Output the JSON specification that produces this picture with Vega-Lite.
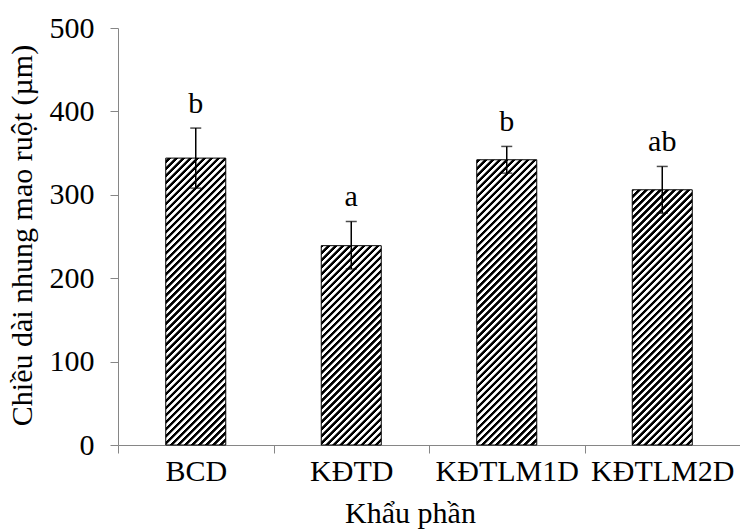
{
  "$schema": "https://vega.github.io/schema/vega-lite/v6.json",
  "width": 622,
  "height": 417,
  "autosize": "none",
  "padding": {"left": 118, "top": 28, "right": 0, "bottom": 86},
  "background": "white",
  "config": {
    "view": {"stroke": null},
    "font": "Liberation Serif",
    "axisY": {"grid": false, "labelFontSize": 30, "labelColor": "#000", "labelPadding": 16, "labelBaseline": "middle",
      "domainColor": "#868686", "tickColor": "#868686", "tickSize": 8,
      "titleFontSize": 30, "titleFontWeight": "normal", "titleColor": "#000", "titleX": -96, "titleY": 207, "titleAngle": 270, "titleBaseline": "middle", "titleAlign": "center"},
    "axisX": {"labelAngle": 0, "labelFontSize": 30, "labelColor": "#000", "labelBaseline": "alphabetic", "labelPadding": 27,
      "domainColor": "#868686", "tickColor": "#868686", "tickSize": 8, "tickBand": "extent",
      "titleFontSize": 30, "titleFontWeight": "normal", "titleColor": "#000", "titleX": 292, "titleY": 77, "titleBaseline": "alphabetic", "titleAlign": "center"}
  },
  "data": {"values": [
    {"diet": "BCD", "mean": 344, "lo": 308, "hi": 380, "sig": "b"},
    {"diet": "KĐTD", "mean": 239, "lo": 211, "hi": 268, "sig": "a"},
    {"diet": "KĐTLM1D", "mean": 342, "lo": 326, "hi": 358, "sig": "b"},
    {"diet": "KĐTLM2D", "mean": 306, "lo": 278, "hi": 334, "sig": "ab"}
  ]},
  "encoding": {
    "x": {"field": "diet", "type": "nominal", "sort": null, "title": "Khẩu phần",
      "scale": {"paddingInner": 0, "paddingOuter": 0}}
  },
  "layer": [
    {
      "mark": {"type": "bar", "width": 60, "fill": {"gradient": "linear", "x1": 0, "y1": 0, "x2": 0.2378, "y2": 1.1567, "stops": [
        {"offset":0.001,"color":"#000"},{"offset":0.009,"color":"#000"},{"offset":0.011,"color":"#fff"},{"offset":0.019,"color":"#fff"},
        {"offset":0.021,"color":"#000"},{"offset":0.029,"color":"#000"},{"offset":0.031,"color":"#fff"},{"offset":0.039,"color":"#fff"},
        {"offset":0.041,"color":"#000"},{"offset":0.049,"color":"#000"},{"offset":0.051,"color":"#fff"},{"offset":0.059,"color":"#fff"},
        {"offset":0.061,"color":"#000"},{"offset":0.069,"color":"#000"},{"offset":0.071,"color":"#fff"},{"offset":0.079,"color":"#fff"},
        {"offset":0.081,"color":"#000"},{"offset":0.089,"color":"#000"},{"offset":0.091,"color":"#fff"},{"offset":0.099,"color":"#fff"},
        {"offset":0.101,"color":"#000"},{"offset":0.109,"color":"#000"},{"offset":0.111,"color":"#fff"},{"offset":0.119,"color":"#fff"},
        {"offset":0.121,"color":"#000"},{"offset":0.129,"color":"#000"},{"offset":0.131,"color":"#fff"},{"offset":0.139,"color":"#fff"},
        {"offset":0.141,"color":"#000"},{"offset":0.149,"color":"#000"},{"offset":0.151,"color":"#fff"},{"offset":0.159,"color":"#fff"},
        {"offset":0.161,"color":"#000"},{"offset":0.169,"color":"#000"},{"offset":0.171,"color":"#fff"},{"offset":0.179,"color":"#fff"},
        {"offset":0.181,"color":"#000"},{"offset":0.189,"color":"#000"},{"offset":0.191,"color":"#fff"},{"offset":0.199,"color":"#fff"},
        {"offset":0.201,"color":"#000"},{"offset":0.209,"color":"#000"},{"offset":0.211,"color":"#fff"},{"offset":0.219,"color":"#fff"},
        {"offset":0.221,"color":"#000"},{"offset":0.229,"color":"#000"},{"offset":0.231,"color":"#fff"},{"offset":0.239,"color":"#fff"},
        {"offset":0.241,"color":"#000"},{"offset":0.249,"color":"#000"},{"offset":0.251,"color":"#fff"},{"offset":0.259,"color":"#fff"},
        {"offset":0.261,"color":"#000"},{"offset":0.269,"color":"#000"},{"offset":0.271,"color":"#fff"},{"offset":0.279,"color":"#fff"},
        {"offset":0.281,"color":"#000"},{"offset":0.289,"color":"#000"},{"offset":0.291,"color":"#fff"},{"offset":0.299,"color":"#fff"},
        {"offset":0.301,"color":"#000"},{"offset":0.309,"color":"#000"},{"offset":0.311,"color":"#fff"},{"offset":0.319,"color":"#fff"},
        {"offset":0.321,"color":"#000"},{"offset":0.329,"color":"#000"},{"offset":0.331,"color":"#fff"},{"offset":0.339,"color":"#fff"},
        {"offset":0.341,"color":"#000"},{"offset":0.349,"color":"#000"},{"offset":0.351,"color":"#fff"},{"offset":0.359,"color":"#fff"},
        {"offset":0.361,"color":"#000"},{"offset":0.369,"color":"#000"},{"offset":0.371,"color":"#fff"},{"offset":0.379,"color":"#fff"},
        {"offset":0.381,"color":"#000"},{"offset":0.389,"color":"#000"},{"offset":0.391,"color":"#fff"},{"offset":0.399,"color":"#fff"},
        {"offset":0.401,"color":"#000"},{"offset":0.409,"color":"#000"},{"offset":0.411,"color":"#fff"},{"offset":0.419,"color":"#fff"},
        {"offset":0.421,"color":"#000"},{"offset":0.429,"color":"#000"},{"offset":0.431,"color":"#fff"},{"offset":0.439,"color":"#fff"},
        {"offset":0.441,"color":"#000"},{"offset":0.449,"color":"#000"},{"offset":0.451,"color":"#fff"},{"offset":0.459,"color":"#fff"},
        {"offset":0.461,"color":"#000"},{"offset":0.469,"color":"#000"},{"offset":0.471,"color":"#fff"},{"offset":0.479,"color":"#fff"},
        {"offset":0.481,"color":"#000"},{"offset":0.489,"color":"#000"},{"offset":0.491,"color":"#fff"},{"offset":0.499,"color":"#fff"},
        {"offset":0.501,"color":"#000"},{"offset":0.509,"color":"#000"},{"offset":0.511,"color":"#fff"},{"offset":0.519,"color":"#fff"},
        {"offset":0.521,"color":"#000"},{"offset":0.529,"color":"#000"},{"offset":0.531,"color":"#fff"},{"offset":0.539,"color":"#fff"},
        {"offset":0.541,"color":"#000"},{"offset":0.549,"color":"#000"},{"offset":0.551,"color":"#fff"},{"offset":0.559,"color":"#fff"},
        {"offset":0.561,"color":"#000"},{"offset":0.569,"color":"#000"},{"offset":0.571,"color":"#fff"},{"offset":0.579,"color":"#fff"},
        {"offset":0.581,"color":"#000"},{"offset":0.589,"color":"#000"},{"offset":0.591,"color":"#fff"},{"offset":0.599,"color":"#fff"},
        {"offset":0.601,"color":"#000"},{"offset":0.609,"color":"#000"},{"offset":0.611,"color":"#fff"},{"offset":0.619,"color":"#fff"},
        {"offset":0.621,"color":"#000"},{"offset":0.629,"color":"#000"},{"offset":0.631,"color":"#fff"},{"offset":0.639,"color":"#fff"},
        {"offset":0.641,"color":"#000"},{"offset":0.649,"color":"#000"},{"offset":0.651,"color":"#fff"},{"offset":0.659,"color":"#fff"},
        {"offset":0.661,"color":"#000"},{"offset":0.669,"color":"#000"},{"offset":0.671,"color":"#fff"},{"offset":0.679,"color":"#fff"},
        {"offset":0.681,"color":"#000"},{"offset":0.689,"color":"#000"},{"offset":0.691,"color":"#fff"},{"offset":0.699,"color":"#fff"},
        {"offset":0.701,"color":"#000"},{"offset":0.709,"color":"#000"},{"offset":0.711,"color":"#fff"},{"offset":0.719,"color":"#fff"},
        {"offset":0.721,"color":"#000"},{"offset":0.729,"color":"#000"},{"offset":0.731,"color":"#fff"},{"offset":0.739,"color":"#fff"},
        {"offset":0.741,"color":"#000"},{"offset":0.749,"color":"#000"},{"offset":0.751,"color":"#fff"},{"offset":0.759,"color":"#fff"},
        {"offset":0.761,"color":"#000"},{"offset":0.769,"color":"#000"},{"offset":0.771,"color":"#fff"},{"offset":0.779,"color":"#fff"},
        {"offset":0.781,"color":"#000"},{"offset":0.789,"color":"#000"},{"offset":0.791,"color":"#fff"},{"offset":0.799,"color":"#fff"},
        {"offset":0.801,"color":"#000"},{"offset":0.809,"color":"#000"},{"offset":0.811,"color":"#fff"},{"offset":0.819,"color":"#fff"},
        {"offset":0.821,"color":"#000"},{"offset":0.829,"color":"#000"},{"offset":0.831,"color":"#fff"},{"offset":0.839,"color":"#fff"},
        {"offset":0.841,"color":"#000"},{"offset":0.849,"color":"#000"},{"offset":0.851,"color":"#fff"},{"offset":0.859,"color":"#fff"},
        {"offset":0.861,"color":"#000"},{"offset":0.869,"color":"#000"},{"offset":0.871,"color":"#fff"},{"offset":0.879,"color":"#fff"},
        {"offset":0.881,"color":"#000"},{"offset":0.889,"color":"#000"},{"offset":0.891,"color":"#fff"},{"offset":0.899,"color":"#fff"},
        {"offset":0.901,"color":"#000"},{"offset":0.909,"color":"#000"},{"offset":0.911,"color":"#fff"},{"offset":0.919,"color":"#fff"},
        {"offset":0.921,"color":"#000"},{"offset":0.929,"color":"#000"},{"offset":0.931,"color":"#fff"},{"offset":0.939,"color":"#fff"},
        {"offset":0.941,"color":"#000"},{"offset":0.949,"color":"#000"},{"offset":0.951,"color":"#fff"},{"offset":0.959,"color":"#fff"},
        {"offset":0.961,"color":"#000"},{"offset":0.969,"color":"#000"},{"offset":0.971,"color":"#fff"},{"offset":0.979,"color":"#fff"},
        {"offset":0.981,"color":"#000"},{"offset":0.989,"color":"#000"},{"offset":0.991,"color":"#fff"},{"offset":0.999,"color":"#fff"}
      ]}},
      "encoding": {
        "y": {"datum": 350, "type": "quantitative", "title": "Chiều dài nhung mao ruột (µm)",
          "scale": {"domain": [0, 500], "nice": false},
          "axis": {"values": [0, 100, 200, 300, 400, 500]}},
        "y2": {"datum": 0}
      }
    },
    {
      "mark": {"type": "bar", "width": 62, "fill": "#fff", "stroke": null},
      "encoding": {
        "y": {"field": "mean", "type": "quantitative", "title": "Chiều dài nhung mao ruột (µm)"},
        "y2": {"datum": 350}
      }
    },
    {
      "mark": {"type": "bar", "width": 60, "fillOpacity": 0, "stroke": "#000", "strokeWidth": 1},
      "encoding": {
        "y": {"field": "mean", "type": "quantitative", "title": "Chiều dài nhung mao ruột (µm)"},
        "y2": {"datum": 0}
      }
    },
    {
      "mark": {"type": "rule", "color": "#000", "strokeWidth": 1.5},
      "encoding": {
        "y": {"field": "lo", "type": "quantitative", "title": "Chiều dài nhung mao ruột (µm)"},
        "y2": {"field": "hi"}
      }
    },
    {
      "mark": {"type": "tick", "orient": "horizontal", "color": "#000", "size": 11, "thickness": 1.5},
      "encoding": {"y": {"field": "hi", "type": "quantitative", "title": "Chiều dài nhung mao ruột (µm)"}}
    },
    {
      "mark": {"type": "tick", "orient": "horizontal", "color": "#000", "size": 11, "thickness": 1.5},
      "encoding": {"y": {"field": "lo", "type": "quantitative", "title": "Chiều dài nhung mao ruột (µm)"}}
    },
    {
      "mark": {"type": "text", "fontSize": 30, "color": "#000", "baseline": "alphabetic", "dy": -15},
      "encoding": {
        "y": {"field": "hi", "type": "quantitative", "title": "Chiều dài nhung mao ruột (µm)"},
        "text": {"field": "sig"}
      }
    }
  ]
}
